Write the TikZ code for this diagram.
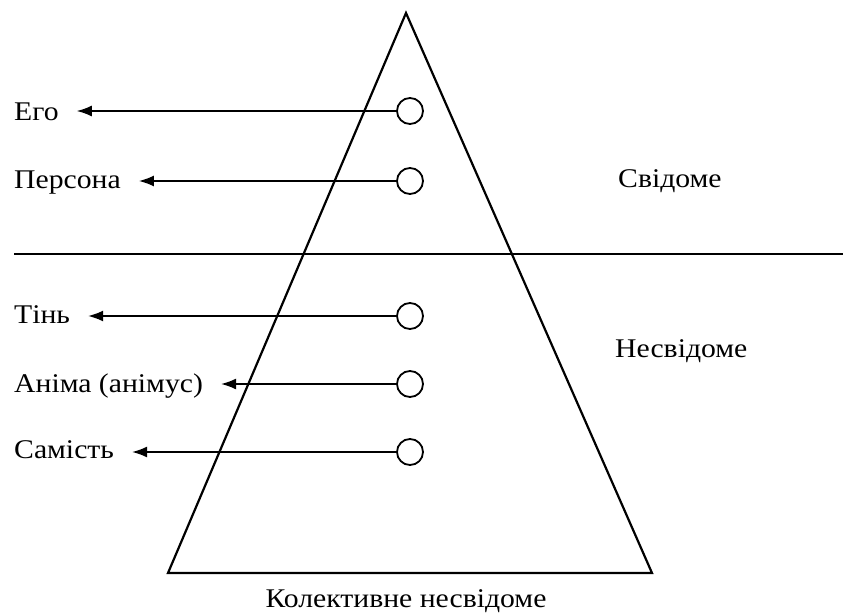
\documentclass[tikz,border=0pt]{standalone}
\usepackage{fontspec}
\setmainfont{Liberation Serif}[FakeStretch=1.1]
\usetikzlibrary{arrows.meta}
\tikzset{ring/.style = {draw, circle, line width=1.8, inner sep=0, minimum size=26}}
\tikzset{lbl/.style = {inner sep=0, font=\fontsize{27}{31}\selectfont}}
\tikzset{pointer/.style = {line width=1.4, -{Latex[length=15,width=11]}, shorten >=18}}

\begin{document}
\begin{tikzpicture}[x=1pt,y=-1pt]
    \useasboundingbox (0,0) rectangle (843,615);
    \coordinate (apex) at (406,13);
    \coordinate (bl) at (168,573);
    \coordinate (br) at (652,573);
    \coordinate (sl) at (14,254);
    \coordinate (sr) at (843,254);
    \draw[line width=2.2] (apex) -- (bl) -- (br) -- cycle;
    \draw[line width=2.2] (sl) -- (sr);
    \foreach \name/\y/\base/\txt in {ego/111/121/Его, persona/181/188/Персона,
        shadow/316/323/Тінь, anima/384/392/Аніма (анімус), self/452/458/Самість} {
        \node[ring] (c\name) at (410,\y) {};
        \node[lbl, anchor=base west] (t\name) at (14,\base) {\txt};
        \draw[pointer] (c\name) -- (c\name -| t\name.east); % to the label
    }
    \node[lbl, anchor=base west] (conscious) at (618,187) {Свідоме};
    \node[lbl, anchor=base west] (unconscious) at (615,357) {Несвідоме};
    \node[lbl, anchor=base] (collective) at (406,607) {Колективне несвідоме};
\end{tikzpicture}
\end{document}
